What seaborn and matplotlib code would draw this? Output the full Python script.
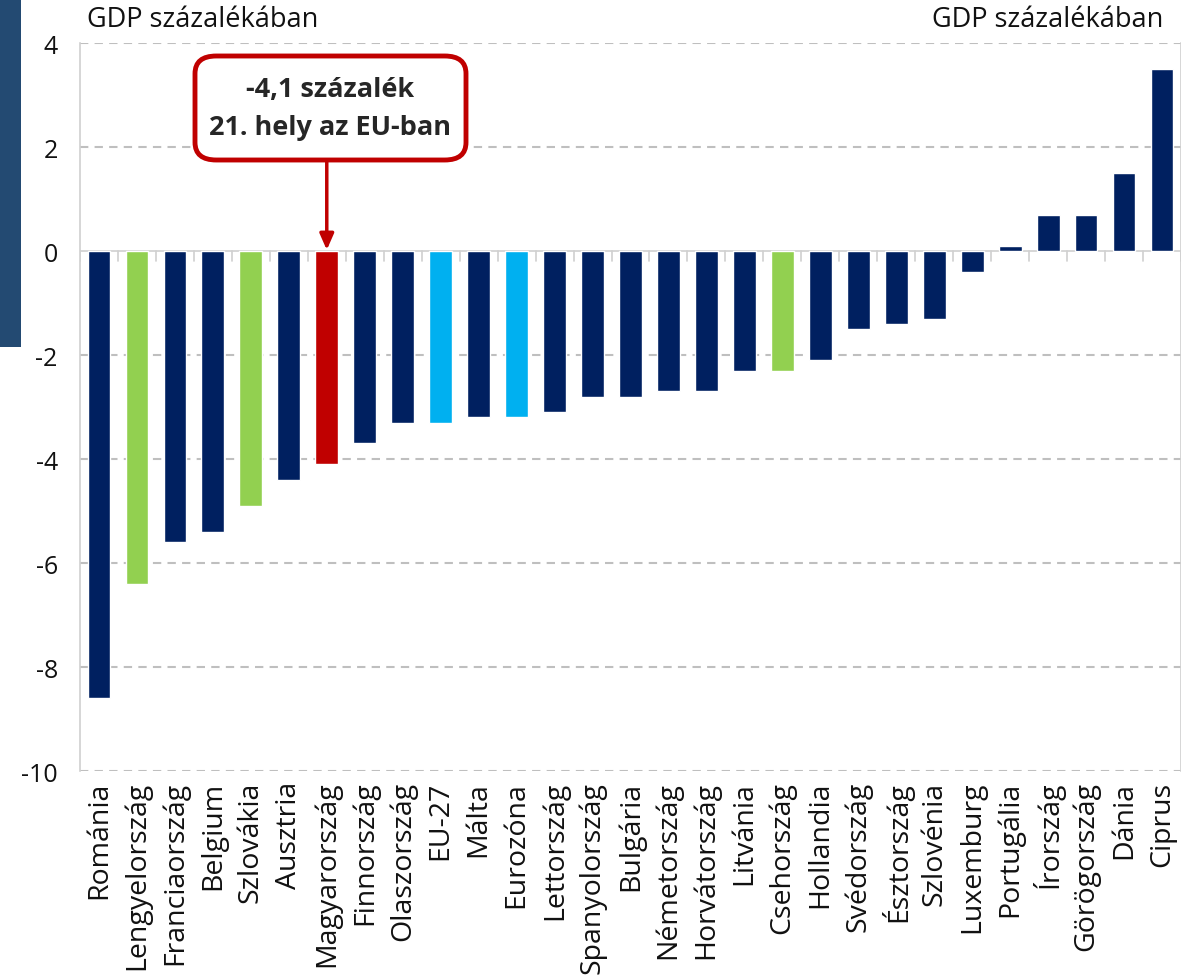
import matplotlib
matplotlib.use("Agg")
import matplotlib.pyplot as plt
import seaborn as sns
import pandas as pd
from matplotlib.patches import FancyBboxPatch, Rectangle

countries = ["Románia", "Lengyelország", "Franciaország", "Belgium", "Szlovákia",
             "Ausztria", "Magyarország", "Finnország", "Olaszország", "EU-27",
             "Málta", "Eurozóna", "Lettország", "Spanyolország", "Bulgária",
             "Németország", "Horvátország", "Litvánia", "Csehország", "Hollandia",
             "Svédország", "Észtország", "Szlovénia", "Luxemburg", "Portugália",
             "Írország", "Görögország", "Dánia", "Ciprus"]
values = [-8.6, -6.4, -5.6, -5.4, -4.9, -4.4, -4.1, -3.7, -3.3, -3.3,
          -3.2, -3.2, -3.1, -2.8, -2.8, -2.7, -2.7, -2.3, -2.3, -2.1,
          -1.5, -1.4, -1.3, -0.4, 0.1, 0.7, 0.7, 1.5, 3.5]
groups = ["other", "v4", "other", "other", "v4", "other", "hu", "other", "other", "eu",
          "other", "eu", "other", "other", "other", "other", "other", "other", "v4", "other",
          "other", "other", "other", "other", "other", "other", "other", "other", "other"]
group_colors = {"other": "#002060", "v4": "#92D050", "hu": "#C00000", "eu": "#00B0F0"}
y_ticks = [4, 2, 0, -2, -4, -6, -8, -10]
unit_label = "GDP százalékában"
callout_lines = ["-4,1 százalék", "21. hely az EU-ban"]
highlight = "Magyarország"

sns.set_theme(style="white")
plt.rcParams['font.family'] = ['Open Sans', 'DejaVu Sans']

df = pd.DataFrame({"country": countries, "value": values})
palette = {c: group_colors[g] for c, g in zip(countries, groups)}

fig = plt.figure(figsize=(11.81, 9.78), dpi=100)
ax = fig.add_axes([80 / 1181, 1 - 772 / 978, (1181 - 80) / 1181, (772 - 44) / 978])

sns.barplot(data=df, x="country", y="value", hue="country", palette=palette,
            legend=False, width=0.6, ax=ax, saturation=1)

ax.set_ylim(-10, 4)
ax.set_xlim(-0.5, len(countries) - 0.5)
ax.set_yticks(y_ticks)
ax.set_yticklabels([str(t) for t in y_ticks])
ax.set_xlabel("")
ax.set_ylabel("")

for t in y_ticks:
    if t != 0:
        ax.axhline(t, color="#BFBFBF", lw=1.5, ls=(0, (4, 3)), zorder=0)
ax.axhline(0, color="#D0D0D0", lw=1.2, zorder=0.5)
# category boundary tick marks on the zero line
for i in range(len(countries) + 1):
    ax.plot([i - 0.5, i - 0.5], [0, -0.2], color="#D0D0D0", lw=1.2, zorder=0.5)

for side in ["top", "bottom"]:
    ax.spines[side].set_visible(False)
for side in ["left", "right"]:
    ax.spines[side].set_color("#D0D0D0")
    ax.spines[side].set_linewidth(1.2)

ax.tick_params(axis="y", length=8, color="#D0D0D0", width=1.2, labelsize=18, pad=8,
               labelcolor="#111111")
ax.tick_params(axis="x", length=0, labelsize=20.5, pad=7, labelcolor="#111111")
plt.setp(ax.get_xticklabels(), rotation=90)

fig.text(87 / 1181, 1 - 20 / 978, unit_label, fontsize=19.5, ha="left", va="center", color="#111111")
fig.text(1163 / 1181, 1 - 20 / 978, unit_label, fontsize=19.5, ha="right", va="center", color="#111111")

# callout
hx = countries.index(highlight)
box = FancyBboxPatch((195 / 1181, 1 - 161 / 978), (466 - 195) / 1181, (161 - 57) / 978,
                     boxstyle="round,pad=0,rounding_size=0.018", transform=fig.transFigure,
                     facecolor="white", edgecolor="#C00000", lw=3.5, zorder=5)
fig.patches.append(box)
fig.text(330 / 1181, 1 - 90 / 978, callout_lines[0], fontsize=19.5, fontweight="bold",
         ha="center", va="center", zorder=6)
fig.text(330 / 1181, 1 - 128 / 978, callout_lines[1], fontsize=19.5, fontweight="bold",
         ha="center", va="center", zorder=6)
ax.annotate("", xy=(hx, 0.02), xycoords="data",
            xytext=(hx, (1 - 161 / 978 - (1 - 772 / 978)) / ((772 - 44) / 978) * 14 - 10),
            textcoords="data",
            arrowprops=dict(arrowstyle="-|>,head_length=0.8,head_width=0.35", color="#C00000", lw=2.5,
                            shrinkA=0, shrinkB=0))

# slide decoration strip at the left edge
fig.patches.append(Rectangle((0, 1 - 348 / 978), 21 / 1181, 348 / 978, transform=fig.transFigure,
                             facecolor="#234A72", edgecolor="none", zorder=10))

fig.savefig("out.png", dpi=100)
